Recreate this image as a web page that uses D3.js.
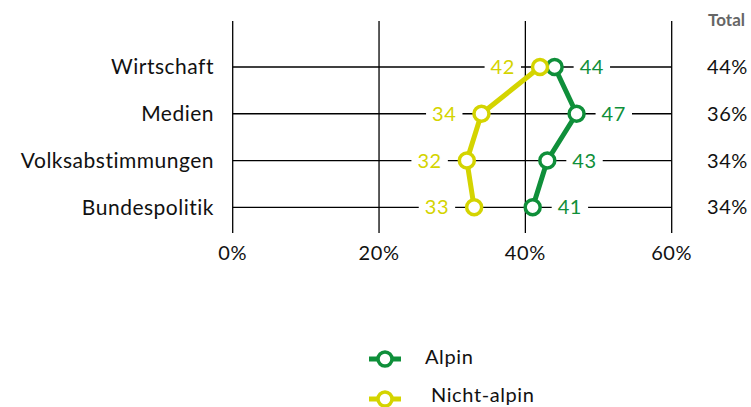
<!DOCTYPE html>
<html>
<head>
<meta charset="utf-8">
<script src="https://cdn.jsdelivr.net/npm/d3@7"></script>
<style>
  html, body { margin: 0; padding: 0; background: #fff; }
  svg { display: block; font-family: Lato, "Open Sans", sans-serif; }
</style>
</head>
<body>
<svg id="chart" width="751" height="407"></svg>
<script>
// Categories, top to bottom
const categories = ["Wirtschaft", "Medien", "Volksabstimmungen", "Bundespolitik"];
// Share per region (percent)
const alpin = [44, 47, 43, 41];
const nichtAlpin = [42, 34, 32, 33];
// Overall share per category
const totals = ["44%", "36%", "34%", "34%"];
const xTicks = [0, 20, 40, 60];
const seriesNames = ["Alpin", "Nicht-alpin"];

const GREEN = "#0f8f3a";
const YELLOW = "#d4d400";
const FS = 20;
const LS = 0.6;

const svg = d3.select("#chart");

const x = d3.scaleLinear().domain([0, 60]).range([232.7, 671.7]);
const y = d3.scalePoint().domain(categories).range([67, 207.3]);
const gridTop = 21, gridBottom = 233;

// vertical grid lines
svg.append("g").selectAll("line").data(xTicks).join("line")
  .attr("x1", d => x(d)).attr("x2", d => x(d))
  .attr("y1", gridTop).attr("y2", gridBottom)
  .attr("stroke", "#000").attr("stroke-width", 1.3);

// horizontal category lines
svg.append("g").selectAll("line").data(categories).join("line")
  .attr("x1", x(0)).attr("x2", x(60))
  .attr("y1", d => y(d)).attr("y2", d => y(d))
  .attr("stroke", "#000").attr("stroke-width", 1.3);

// x axis tick labels
svg.append("g").selectAll("text").data(xTicks).join("text")
  .attr("x", d => x(d)).attr("y", 260)
  .attr("text-anchor", "middle")
  .attr("font-size", FS).attr("letter-spacing", LS).attr("fill", "#111")
  .text(d => d + "%");

// category labels
svg.append("g").selectAll("text").data(categories).join("text")
  .attr("x", 214).attr("y", d => y(d))
  .attr("dy", "0.35em")
  .attr("text-anchor", "end")
  .attr("font-size", 21).attr("letter-spacing", 0.5).attr("fill", "#111")
  .text(d => d);

// totals column
svg.append("text")
  .attr("x", 745).attr("y", 20)
  .attr("dy", "0.35em")
  .attr("text-anchor", "end")
  .attr("font-size", 17).attr("font-weight", "bold").attr("fill", "#666")
  .text("Total");
svg.append("g").selectAll("text").data(totals).join("text")
  .attr("x", 748).attr("y", (d, i) => y(categories[i]))
  .attr("dy", "0.35em")
  .attr("text-anchor", "end")
  .attr("font-size", FS).attr("letter-spacing", LS).attr("fill", "#111")
  .text(d => d);

// value labels with white knockout behind them
function valueLabels(values, color, side) {
  const g = svg.append("g");
  values.forEach((v, i) => {
    const cx = x(v), cy = y(categories[i]);
    const t = g.append("text")
      .attr("y", cy).attr("dy", "0.35em")
      .attr("font-size", FS).attr("letter-spacing", LS).attr("fill", color)
      .attr("text-anchor", side < 0 ? "end" : "start")
      .attr("x", side < 0 ? cx - 25 : cx + 25)
      .text(v);
    const b = t.node().getBBox();
    g.insert("rect", () => t.node())
      .attr("x", b.x - 6).attr("y", cy - 8)
      .attr("width", b.width + 12).attr("height", 16)
      .attr("fill", "#fff");
  });
}
valueLabels(nichtAlpin, YELLOW, -1);
valueLabels(alpin, GREEN, 1);

// series lines and markers
const line = d3.line().x(d => x(d.v)).y(d => y(d.c));
function drawSeries(values, color) {
  const pts = values.map((v, i) => ({ v, c: categories[i] }));
  svg.append("path").datum(pts)
    .attr("d", line).attr("fill", "none")
    .attr("stroke", color).attr("stroke-width", 5)
    .attr("stroke-linejoin", "round");
  svg.append("g").selectAll("circle").data(pts).join("circle")
    .attr("cx", d => x(d.v)).attr("cy", d => y(d.c)).attr("r", 7.5)
    .attr("fill", "#fff").attr("stroke", color).attr("stroke-width", 3.5);
}
drawSeries(alpin, GREEN);
drawSeries(nichtAlpin, YELLOW);

// legend
const legend = [
  { name: seriesNames[0], color: GREEN, y: 359, ty: 357, tx: 425 },
  { name: seriesNames[1], color: YELLOW, y: 399, ty: 395, tx: 431 }
];
const lg = svg.append("g");
legend.forEach(l => {
  lg.append("line").attr("x1", 369).attr("x2", 401)
    .attr("y1", l.y).attr("y2", l.y)
    .attr("stroke", l.color).attr("stroke-width", 5);
  lg.append("circle").attr("cx", 385).attr("cy", l.y).attr("r", 7)
    .attr("fill", "#fff").attr("stroke", l.color).attr("stroke-width", 3.5);
  lg.append("text").attr("x", l.tx).attr("y", l.ty).attr("dy", "0.35em")
    .attr("font-size", FS).attr("letter-spacing", LS).attr("fill", "#111").text(l.name);
});
</script>
</body>
</html>
